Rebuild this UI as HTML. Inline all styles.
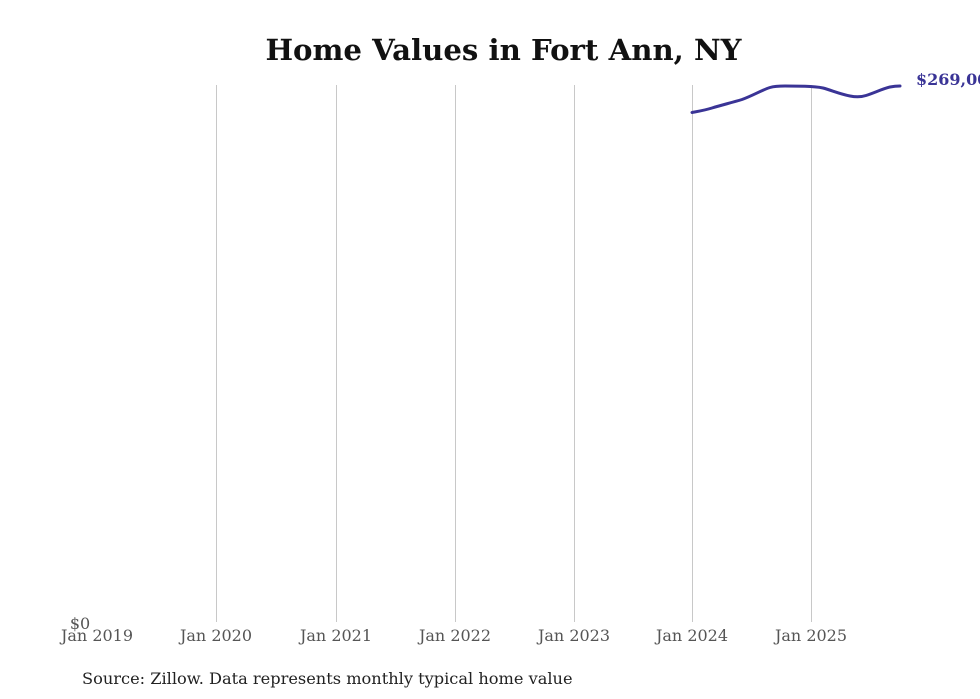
<!DOCTYPE html>
<html><head><meta charset="utf-8"><style>
html,body{margin:0;padding:0;background:#fff;}
body{width:980px;height:699px;overflow:hidden;}
svg{display:block;}
</style></head><body>
<svg width="980" height="699" viewBox="0 0 980 699" xmlns="http://www.w3.org/2000/svg">
<text x="503.5" y="60" text-anchor="middle" font-family="'DejaVu Serif','Liberation Serif',serif" font-weight="bold" font-size="29.2" fill="#111">Home Values in Fort Ann, NY</text>
<g stroke="#c8c8c8" stroke-width="1">
<line x1="216.5" y1="85" x2="216.5" y2="622"/>
<line x1="336.5" y1="85" x2="336.5" y2="622"/>
<line x1="455.5" y1="85" x2="455.5" y2="622"/>
<line x1="574.5" y1="85" x2="574.5" y2="622"/>
<line x1="692.5" y1="85" x2="692.5" y2="622"/>
<line x1="811.5" y1="85" x2="811.5" y2="622"/>
</g>
<g font-family="'DejaVu Serif','Liberation Serif',serif" font-size="16" fill="#555" text-anchor="middle">
<text x="97" y="641">Jan 2019</text>
<text x="216" y="641">Jan 2020</text>
<text x="336" y="641">Jan 2021</text>
<text x="455" y="641">Jan 2022</text>
<text x="574" y="641">Jan 2023</text>
<text x="692" y="641">Jan 2024</text>
<text x="811" y="641">Jan 2025</text>
<text x="80" y="629">$0</text>
</g>
<path d="M692,112.5 C700,111 706,110 712,108 C722,105 732,102.5 742,99.5 C752,96 762,90 770,87.5 C775,86 780,86 785,86 L805,86.3 C812,86.5 818,87 823,88 C832,90.5 840,94 850,96 C855,97 860,97.5 866,95.5 C874,93 882,89 890,87 C894,86.2 897,86 900,86" fill="none" stroke="#3a3496" stroke-width="3" stroke-linecap="round" stroke-linejoin="round"/>
<text x="916" y="85" font-family="'DejaVu Serif','Liberation Serif',serif" font-weight="bold" font-size="16" fill="#3a3496">$269,000</text>
<text x="82" y="684" font-family="'DejaVu Serif','Liberation Serif',serif" font-size="16.2" fill="#222">Source: Zillow. Data represents monthly typical home value</text>
</svg>
</body></html>
